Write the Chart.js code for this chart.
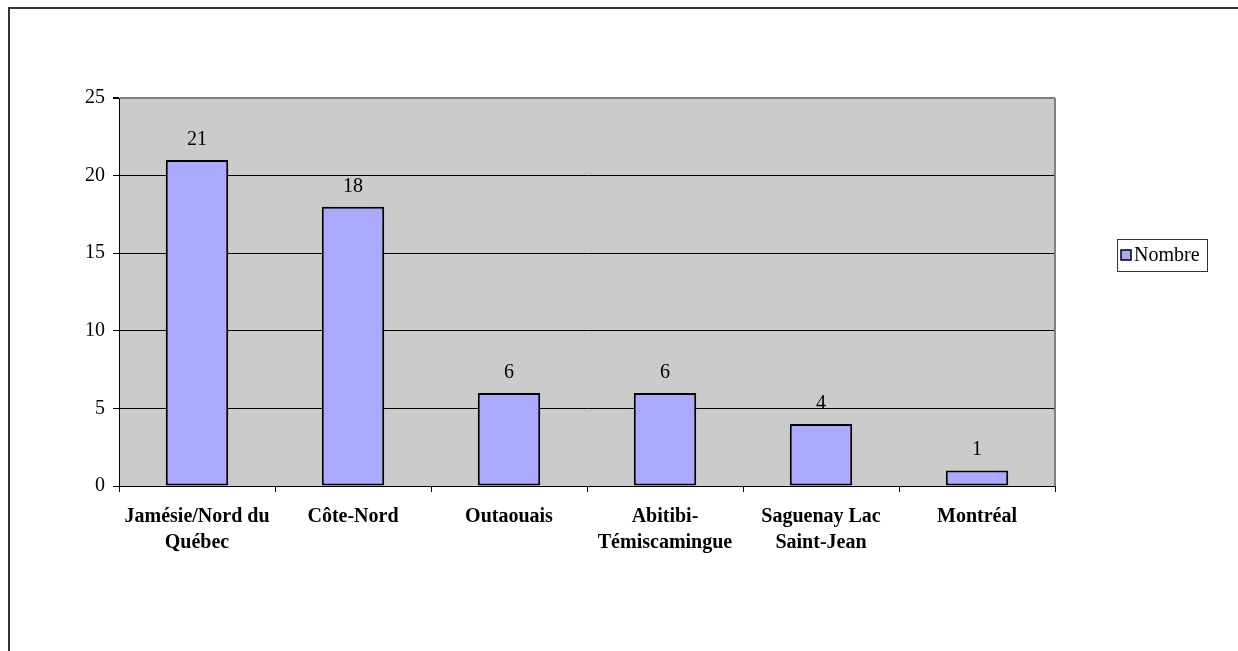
<!DOCTYPE html>
<html>
<head>
<meta charset="utf-8">
<title>Nombre par région</title>
<script src="https://cdn.jsdelivr.net/npm/chart.js@4/dist/chart.umd.min.js"></script>
<style>
  html, body { margin: 0; padding: 0; background: #fff; }
  #wrap { width: 1238px; height: 651px; position: relative; }
</style>
</head>
<body>
<div id="wrap"><canvas id="regionChart" width="1238" height="651"></canvas></div>
<script>
const regions = [
    ['Jamésie/Nord du', 'Québec'],
    'Côte-Nord',
    'Outaouais',
    ['Abitibi-', 'Témiscamingue'],
    ['Saguenay Lac', 'Saint-Jean'],
    'Montréal'
];
const nombre = [21, 18, 6, 6, 4, 1];
const yTicks = [0, 5, 10, 15, 20, 25];

const serif = '"Liberation Serif", "Times New Roman", serif';
const plotGray = '#CBCBCB';
const barFill = '#A9A9FF';

// cadre, fond gris de la zone de tracé et bordure droite
const backdrop = {
    id: 'backdrop',
    beforeDraw(chart) {
        const { ctx, chartArea: a } = chart;
        ctx.save();
        ctx.fillStyle = '#fff';
        ctx.fillRect(0, 0, chart.width, chart.height);
        ctx.strokeStyle = '#333';
        ctx.lineWidth = 2;
        ctx.strokeRect(9, 8, chart.width + 20, chart.height + 20);
        ctx.fillStyle = plotGray;
        ctx.fillRect(a.left, a.top, a.right - a.left, a.bottom - a.top);
        ctx.restore();
    },
    afterDraw(chart) {
        const { ctx, chartArea: a } = chart;
        ctx.save();
        ctx.strokeStyle = '#808080';
        ctx.lineWidth = 2;
        ctx.beginPath();
        ctx.moveTo(a.right, a.top);
        ctx.lineTo(a.right, a.bottom);
        ctx.stroke();
        ctx.restore();
    }
};

// valeurs au-dessus des barres
const valueLabels = {
    id: 'valueLabels',
    afterDatasetsDraw(chart) {
        const { ctx } = chart;
        const meta = chart.getDatasetMeta(0);
        ctx.save();
        ctx.font = '20px ' + serif;
        ctx.fillStyle = '#000';
        ctx.textAlign = 'center';
        ctx.textBaseline = 'alphabetic';
        meta.data.forEach((bar, i) => {
            ctx.fillText(String(chart.data.datasets[0].data[i]), bar.x, bar.y - 15);
        });
        ctx.restore();
    }
};

// légende encadrée à droite
const boxLegend = {
    id: 'boxLegend',
    afterDraw(chart) {
        const { ctx } = chart;
        const ds = chart.data.datasets[0];
        const x = 1117, y = 239, w = 90, h = 32;
        ctx.save();
        ctx.fillStyle = '#fff';
        ctx.fillRect(x, y, w, h);
        ctx.strokeStyle = '#333';
        ctx.lineWidth = 1;
        ctx.strokeRect(x + 0.5, y + 0.5, w, h);
        ctx.fillStyle = ds.backgroundColor;
        ctx.fillRect(x + 4, y + 11, 10, 10);
        ctx.strokeStyle = '#000';
        ctx.lineWidth = 1.5;
        ctx.strokeRect(x + 4, y + 11, 10, 10);
        ctx.font = '20px ' + serif;
        ctx.fillStyle = '#000';
        ctx.textBaseline = 'middle';
        ctx.fillText(ds.label, x + 17, y + h / 2 + 1);
        ctx.restore();
    }
};

const ctx = document.getElementById('regionChart').getContext('2d');
new Chart(ctx, {
    type: 'bar',
    data: {
        labels: regions,
        datasets: [{
            label: 'Nombre',
            data: nombre,
            backgroundColor: barFill,
            borderColor: '#000',
            borderWidth: 2,
            borderSkipped: false,
            categoryPercentage: 1,
            barPercentage: 0.4
        }]
    },
    options: {
        responsive: false,
        animation: false,
        devicePixelRatio: 1,
        layout: { padding: { top: 98, right: 183, left: 0, bottom: 0 } },
        plugins: {
            legend: { display: false },
            tooltip: { enabled: false },
            title: { display: false }
        },
        scales: {
            x: {
                grid: {
                    offset: true,
                    drawOnChartArea: false,
                    drawTicks: true,
                    tickLength: 6,
                    tickColor: '#000'
                },
                border: { display: true, color: '#000', width: 1 },
                ticks: {
                    color: '#000',
                    padding: 12,
                    maxRotation: 0,
                    autoSkip: false,
                    font: { family: serif, size: 20, weight: 'bold', lineHeight: 1.3 }
                },
                afterFit(scale) { scale.height = 165; }
            },
            y: {
                min: 0,
                max: 25,
                afterBuildTicks(scale) {
                    scale.ticks = yTicks.map(v => ({ value: v }));
                },
                grid: {
                    color: c => (c.tick && c.tick.value === 25 ? '#808080' : '#000'),
                    lineWidth: c => (c.tick && c.tick.value === 25 ? 2 : 1),
                    drawTicks: true,
                    tickLength: 6,
                    tickColor: '#000'
                },
                border: { display: true, color: '#000', width: 1 },
                ticks: {
                    color: '#000',
                    padding: 8,
                    font: { family: serif, size: 20 }
                },
                afterFit(scale) { scale.width = 119; }
            }
        }
    },
    plugins: [backdrop, valueLabels, boxLegend]
});
</script>
</body>
</html>
